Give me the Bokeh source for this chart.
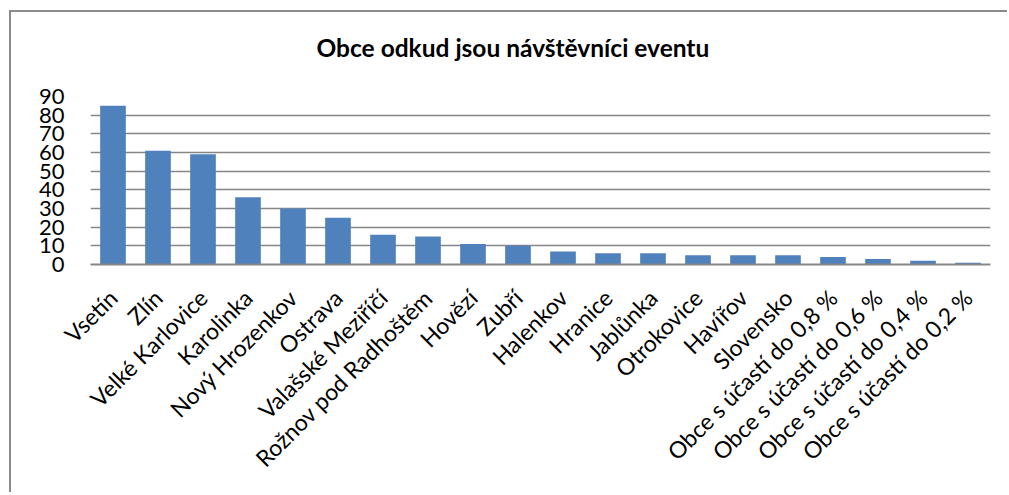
from bokeh.plotting import figure
from bokeh.models import FixedTicker, Title, ColumnDataSource
from bokeh.embed import file_html
from bokeh.resources import INLINE
import math

categories = ["Vsetín", "Zlín", "Velké Karlovice", "Karolinka", "Nový Hrozenkov",
              "Ostrava", "Valašské Meziříčí", "Rožnov pod Radhoštěm", "Hovězí", "Zubří",
              "Halenkov", "Hranice", "Jablůnka", "Otrokovice", "Havířov", "Slovensko",
              "Obce s účastí do 0,8 %", "Obce s účastí do 0,6 %",
              "Obce s účastí do 0,4 %", "Obce s účastí do 0,2 %"]
values = [85, 61, 59, 36, 30, 25, 16, 15, 11, 10, 7, 6, 6, 5, 5, 5, 4, 3, 2, 1]
y_ticks = [0, 10, 20, 30, 40, 50, 60, 70, 80, 90]
title_text = "Obce odkud jsou návštěvníci eventu"

FONT = "Lato"
GRID = "#868686"
BORDER = "2px solid #8a8a8a"

source = ColumnDataSource(data=dict(cat=categories, val=values))

p = figure(x_range=categories, y_range=(0, 90), width=998, height=482,
           output_backend="svg", toolbar_location=None,
           min_border_left=79, min_border_right=19, min_border_top=84, min_border_bottom=230)
p.styles = {"margin-top": "10px", "margin-left": "9px",
            "border-top": BORDER, "border-left": BORDER}

p.vbar(x="cat", top="val", width=0.57, source=source, fill_color="#4F81BD", line_color=None)

p.outline_line_color = None
p.xgrid.grid_line_color = None
p.ygrid.grid_line_color = GRID
p.ygrid.grid_line_width = 1.5
p.ygrid.ticker = FixedTicker(ticks=y_ticks)

p.yaxis.ticker = FixedTicker(ticks=y_ticks)
p.yaxis.axis_line_color = None
p.yaxis.major_tick_line_color = None
p.yaxis.minor_tick_line_color = None
p.yaxis.major_tick_out = 0
p.yaxis.major_label_standoff = 26
p.yaxis.major_label_text_font = FONT
p.yaxis.major_label_text_font_size = "22px"
p.yaxis.major_label_text_color = "black"

p.xaxis.axis_line_color = GRID
p.xaxis.axis_line_width = 2
p.xaxis.major_tick_line_color = None
p.xaxis.major_tick_out = 0
p.xaxis.major_label_standoff = 29
p.xaxis.major_label_orientation = math.pi / 4
p.xaxis.major_label_text_font = FONT
p.xaxis.major_label_text_font_size = "23px"
p.xaxis.major_label_text_color = "black"

spacer = Title(text=" ", text_font_size="1px", standoff=32)
p.add_layout(spacer, "above")
title = Title(text=title_text, align="left", offset=226, standoff=0,
              text_font=FONT, text_font_style="bold", text_font_size="24.5px", text_color="black")
p.add_layout(title, "above")

open("out.html", "w").write(file_html(p, INLINE))
